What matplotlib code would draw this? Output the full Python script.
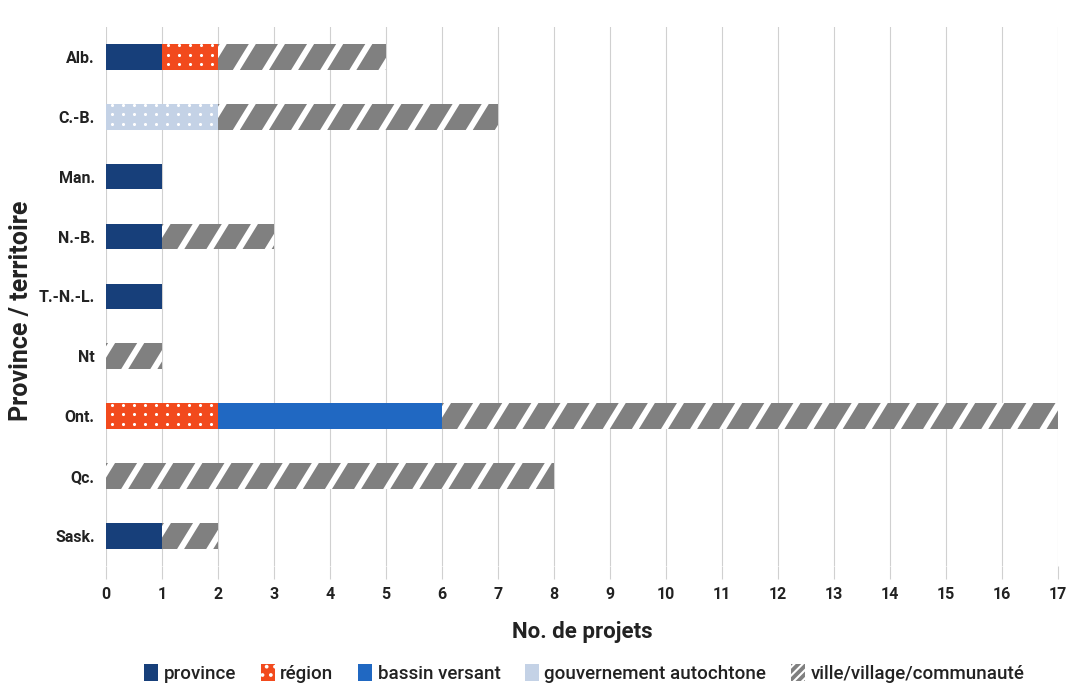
import matplotlib
matplotlib.use("Agg")
import matplotlib.pyplot as plt
from matplotlib.patches import Patch
import numpy as np

plt.rcParams['font.family'] = ['Roboto', 'DejaVu Sans']
plt.rcParams['hatch.linewidth'] = 1.5

# Data
provinces = ["Alb.", "C.-B.", "Man.", "N.-B.", "T.-N.-L.", "Nt", "Ont.", "Qc.", "Sask."]
province = [1, 0, 1, 1, 1, 0, 0, 0, 1]
region = [1, 0, 0, 0, 0, 0, 2, 0, 0]
bassin = [0, 0, 0, 0, 0, 0, 4, 0, 0]
gouv = [0, 2, 0, 0, 0, 0, 0, 0, 0]
ville = [3, 5, 0, 2, 0, 1, 11, 8, 1]

series = [
    ("province", province, "#173f7a", None),
    ("région", region, "#f24a1d", "dots"),
    ("bassin versant", bassin, "#2068c2", None),
    ("gouvernement autochtone", gouv, "#c4d2e6", "dots"),
    ("ville/village/communauté", ville, "#808080", "stripes"),
]

fig = plt.figure(figsize=(10.66, 6.87), dpi=100)
ax = fig.add_axes([0.0994, 0.176, 0.893, 0.785])

ypos = np.arange(len(provinces))
h = 0.43
left = np.zeros(len(provinces))

for name, vals, color, pattern in series:
    vals = np.array(vals, dtype=float)
    bars = ax.barh(ypos, vals, left=left, height=h, color=color, linewidth=0, zorder=3)
    for b, v, l, y in zip(bars, vals, left, ypos):
        if v <= 0 or pattern is None:
            continue
        if pattern == "dots":
            # white dot texture, clipped to the bar
            xs = np.arange(l + 0.1, l + v, 0.197)
            ys = np.arange(y - h / 2 + 0.02, y + h / 2, 0.158)
            gx, gy = np.meshgrid(xs, ys)
            sc = ax.scatter(gx.ravel(), gy.ravel(), s=5, color="white", linewidths=0, zorder=4)
            sc.set_clip_path(b)
        else:
            # white diagonal stripes, clipped to the bar
            shift = 0.23
            period = 0.52
            starts = np.arange(l - shift, l + v + period, period)
            for xb in starts:
                ln, = ax.plot([xb, xb + shift * 1.6], [y + h / 2 + 0.15 * h, y - h / 2 - 0.15 * h],
                              color="white", lw=4.3, solid_capstyle="butt", zorder=4)
                ln.set_clip_path(b)
    left = left + vals

ax.set_xlim(0, 17)
ax.set_ylim(len(provinces) - 0.5, -0.5)
ax.set_xticks(range(0, 18))
ax.set_yticks(ypos)
ax.set_yticklabels(provinces, fontsize=11.5, fontweight="bold", color="#222222")
for lab in ax.get_xticklabels():
    lab.set_fontweight("bold")
ax.tick_params(axis="x", length=9, width=0.8, color="#d0d0d0", labelsize=11.5, labelcolor="#222222", pad=6)
ax.tick_params(axis="y", length=0, pad=8)
ax.grid(axis="x", color="#d0d0d0", linewidth=0.8, zorder=0)
for s in ax.spines.values():
    s.set_visible(False)

ax.set_xlabel("No. de projets", fontsize=16, fontweight="bold", color="#222222", labelpad=14)
ax.set_ylabel("Province / territoire", fontsize=18, fontweight="bold", color="#222222")
ax.yaxis.set_label_coords(-0.077, 0.473)

handles = [
    Patch(facecolor="#173f7a", linewidth=0),
    Patch(facecolor="#f24a1d", edgecolor="white", linewidth=0, hatch=".."),
    Patch(facecolor="#2068c2", linewidth=0),
    Patch(facecolor="#c4d2e6", linewidth=0),
    Patch(facecolor="#808080", edgecolor="white", linewidth=0, hatch="////"),
]
labels = [s[0] for s in series]
fig.legend(handles, labels, loc="center", bbox_to_anchor=(0.548, 0.02), ncol=5, frameon=False,
           prop={"size": 13.5, "weight": "medium"}, handlelength=0.75, handleheight=1.0,
           handletextpad=0.3, columnspacing=1.3, labelcolor="#222222")

fig.savefig("out.png", dpi=100)
